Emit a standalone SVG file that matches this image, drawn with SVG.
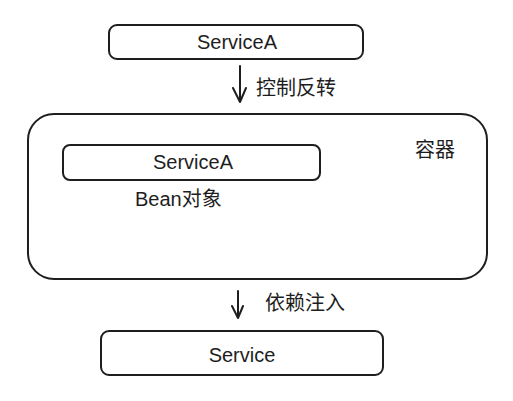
<svg xmlns="http://www.w3.org/2000/svg" width="513" height="401" viewBox="0 0 513 401">
<style>
.box{fill:none;stroke:#1e1e1e;stroke-width:2}
.lbl{font-family:"Liberation Sans","Noto Sans CJK SC",sans-serif;font-size:20px;fill:#1e1e1e}
.t{font-family:"Liberation Sans","Noto Sans CJK SC",sans-serif;font-size:20px;fill:#1e1e1e;text-anchor:middle}
.line{stroke:#1e1e1e;stroke-width:2;fill:none;stroke-linecap:round;stroke-linejoin:round}
</style>
<rect width="513" height="401" fill="#ffffff"/>
<g id="serviceA-top">
<rect class="box" x="109" y="25" width="254" height="34" rx="8"/>
<text class="t" x="237" y="49">ServiceA</text>
</g>
<g id="container">
<rect class="box" x="28" y="114" width="459" height="165" rx="26"/>
<text class="lbl" x="415" y="157">容器</text>
</g>
<g id="serviceA-bean">
<rect class="box" x="63" y="145" width="257" height="35" rx="7"/>
<text class="t" x="193" y="169">ServiceA</text>
<text class="lbl" x="135" y="206">Bean对象</text>
</g>
<g id="service">
<rect class="box" x="101" y="331" width="282" height="44" rx="8"/>
<text class="t" x="242" y="362">Service</text>
</g>
<g id="connectors">
<path class="line" d="M240 66 L240 102 M233 88 L240 102 L246 88"/>
<text class="lbl" x="256" y="95">控制反转</text>
<path class="line" d="M238 291 L238 318 M232 306 L238 318 L243 306"/>
<text class="lbl" x="265" y="310">依赖注入</text>
</g>
</svg>
